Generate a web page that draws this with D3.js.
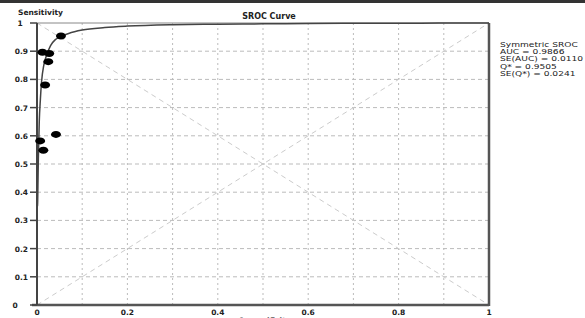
<!DOCTYPE html>
<html>
<head>
<meta charset="utf-8">
<script src="https://cdn.jsdelivr.net/npm/d3@7"></script>
<style>
  body { margin: 0; background: #fff; }
  svg text { font-family: "DejaVu Sans", Verdana, sans-serif; }
</style>
</head>
<body>
<div id="chart"></div>
<script>
// ticks
const yTicks = [0, 0.1, 0.2, 0.3, 0.4, 0.5, 0.6, 0.7, 0.8, 0.9, 1];
const xTicks = [0, 0.2, 0.4, 0.6, 0.8, 1];
const gridVals = [0.1, 0.2, 0.3, 0.4, 0.5, 0.6, 0.7, 0.8, 0.9];

// courbe SROC
const curveFpr  = [0.001, 0.0015, 0.002, 0.003, 0.005, 0.0075, 0.01, 0.015, 0.02, 0.03, 0.04, 0.05, 0.07, 0.1, 0.15, 0.2, 0.3, 0.4, 0.5, 0.6, 0.7, 0.8, 0.9, 1];
const curveSens = [0.35, 0.37, 0.42, 0.52, 0.65, 0.73, 0.79, 0.85, 0.88, 0.92, 0.94, 0.95, 0.963, 0.975, 0.984, 0.989, 0.994, 0.996, 0.997, 0.998, 0.999, 0.999, 1, 1];

// études
const studyFpr  = [0.053, 0.012, 0.027, 0.025, 0.018, 0.042, 0.007, 0.014];
const studySens = [0.954, 0.896, 0.892, 0.863, 0.780, 0.605, 0.582, 0.549];

const statLines = ["Symmetric SROC", "AUC = 0.9866", "SE(AUC) = 0.0110", "Q* = 0.9505", "SE(Q*) = 0.0241"];

const W = 585, H = 318;
const svg = d3.select("#chart").append("svg")
  .attr("width", W).attr("height", H);

svg.append("rect").attr("width", W).attr("height", H).attr("fill", "#fff");
// bande sombre en haut
svg.append("rect").attr("width", W).attr("height", 3).attr("fill", "#333");

const x = d3.scaleLinear().domain([0, 1]).range([37, 489]);
const y = d3.scaleLinear().domain([0, 1]).range([305, 23]);

// grille
const grid = svg.append("g");
grid.selectAll(".gv").data(gridVals).join("line")
  .attr("x1", d => x(d)).attr("x2", d => x(d))
  .attr("y1", y(0)).attr("y2", y(1))
  .attr("stroke", "#bbb").attr("stroke-dasharray", "2,3");
grid.selectAll(".gh").data(gridVals).join("line")
  .attr("x1", x(0)).attr("x2", x(1))
  .attr("y1", d => y(d)).attr("y2", d => y(d))
  .attr("stroke", "#bbb").attr("stroke-dasharray", "4,3");
grid.append("line")
  .attr("x1", x(0)).attr("y1", y(0)).attr("x2", x(1)).attr("y2", y(1))
  .attr("stroke", "#ccc").attr("stroke-dasharray", "5,4");
grid.append("line")
  .attr("x1", x(0)).attr("y1", y(1)).attr("x2", x(1)).attr("y2", y(0))
  .attr("stroke", "#ccc").attr("stroke-dasharray", "5,4");

// cadre
svg.append("line").attr("x1", x(0)).attr("x2", x(1)).attr("y1", y(1)).attr("y2", y(1))
  .attr("stroke", "#888").attr("stroke-width", 1);
svg.append("line").attr("x1", x(1)).attr("x2", x(1)).attr("y1", y(1)).attr("y2", y(0) + 1)
  .attr("stroke", "#555").attr("stroke-width", 2.5);
svg.append("line").attr("x1", 32).attr("x2", x(1)).attr("y1", y(0)).attr("y2", y(0))
  .attr("stroke", "#555").attr("stroke-width", 2.5);
svg.append("line").attr("x1", x(0)).attr("x2", x(0)).attr("y1", y(1)).attr("y2", y(0))
  .attr("stroke", "#444").attr("stroke-width", 2);

// ticks axe y
const yAx = svg.append("g");
yAx.selectAll("line").data(yTicks).join("line")
  .attr("x1", 30).attr("x2", x(0))
  .attr("y1", d => y(d)).attr("y2", d => y(d))
  .attr("stroke", "#444").attr("stroke-width", 1.5);
yAx.selectAll("text").data(yTicks).join("text")
  .attr("x", d => d === 1 ? 20 : d === 0 ? 15 : 28)
  .attr("y", d => y(d) + 3)
  .attr("text-anchor", d => d === 0 || d === 1 ? "middle" : "end")
  .attr("font-size", "7.5px").attr("font-weight", "bold").attr("fill", "#222")
  .text(d => d === 0 || d === 1 ? d : d3.format(".1f")(d));

// labels axe x
svg.append("g").selectAll("text").data(xTicks).join("text")
  .attr("x", d => x(d)).attr("y", 315)
  .attr("text-anchor", "middle")
  .attr("font-size", "7.5px").attr("font-weight", "bold").attr("fill", "#222")
  .text(d => d === 0 || d === 1 ? d : d3.format(".1f")(d));

svg.append("text").attr("x", 265).attr("y", 323).attr("text-anchor", "middle")
  .attr("font-size", "7.5px").attr("font-weight", "bold").attr("fill", "#444")
  .text("1-specificity");

// courbe
const curve = curveFpr.map((f, i) => [f, curveSens[i]]);
svg.append("path").datum(curve)
  .attr("d", d3.line().x(d => x(d[0])).y(d => y(d[1])).curve(d3.curveMonotoneX))
  .attr("fill", "none").attr("stroke", "#444").attr("stroke-width", 1.5);

// points études
svg.append("g").selectAll("ellipse").data(studyFpr).join("ellipse")
  .attr("cx", d => x(d)).attr("cy", (d, i) => y(studySens[i]))
  .attr("rx", 5).attr("ry", 3.5).attr("fill", "#000");

// titres
svg.append("text").attr("x", 18).attr("y", 15)
  .attr("font-size", "7.5px").attr("font-weight", "bold").attr("fill", "#222")
  .text("Sensitivity");
svg.append("text").attr("x", 269).attr("y", 19).attr("text-anchor", "middle")
  .attr("font-size", "8px").attr("font-weight", "bold").attr("fill", "#222")
  .text("SROC Curve");

// statistiques
svg.append("g").attr("transform", "translate(500,0) scale(1.3,1)")
  .selectAll("text").data(statLines).join("text")
  .attr("x", 0).attr("y", (d, i) => 47 + i * 7.2)
  .attr("font-size", "7px").attr("fill", "#222")
  .text(d => d);
</script>
</body>
</html>
